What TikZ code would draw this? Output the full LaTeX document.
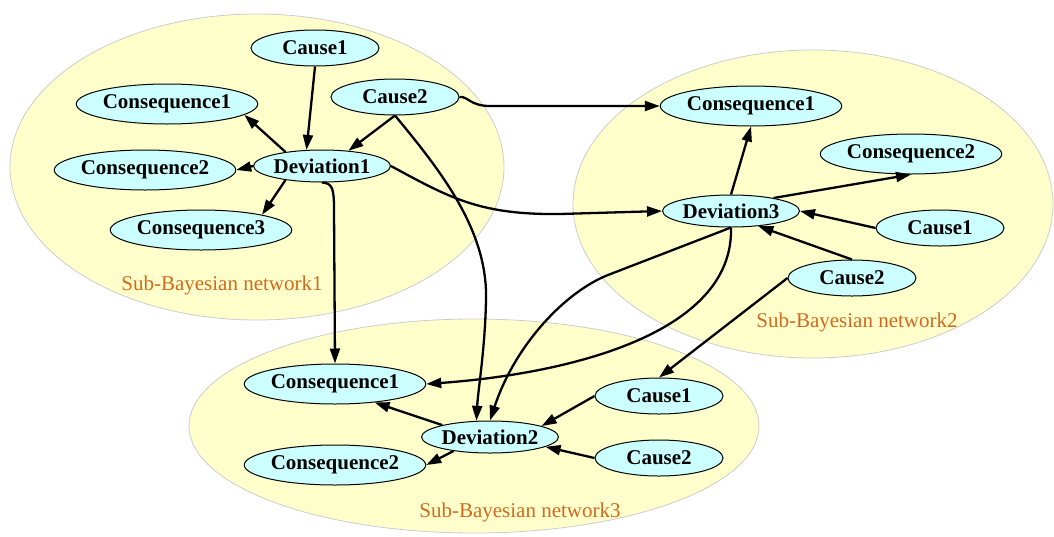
\documentclass[tikz,border=0pt]{standalone}
\usepackage{fontspec}
\setmainfont{Liberation Serif}
\usetikzlibrary{arrows.meta,shapes.geometric}
\definecolor{netfill}{RGB}{255,255,204}
\definecolor{netline}{RGB}{204,204,204}
\definecolor{nodefill}{RGB}{204,255,255}
\definecolor{netlab}{RGB}{210,105,30}
\begin{document}
\begin{tikzpicture}[x=1pt,y=-1pt,
  bn/.style={ellipse,draw,fill=nodefill,line width=1pt,inner sep=0pt,font=\fontsize{21}{21}\selectfont\bfseries},
  cons/.style={bn,minimum width=180pt,minimum height=40pt},
  cause/.style={bn,minimum width=128pt,minimum height=36pt},
  dev/.style={bn,minimum width=128pt,minimum height=32pt},
  link/.style={-{Triangle[length=15pt,width=10pt]},line width=2.3pt},
  sublab/.style={text=netlab,font=\fontsize{21}{21}\selectfont}]
\useasboundingbox (0,0) rectangle (1054,536);
\foreach \x/\y/\rx/\ry in {257/167/247/153,813/204/240/154,474/426/285/107}{
  \filldraw[fill=netfill,draw=netline,line width=0.8pt] (\x,\y) ellipse [x radius=\rx,y radius=\ry];
}
\foreach \nm/\x/\y/\txt in {lab1/222/285/Sub-Bayesian network1,lab2/857/322/Sub-Bayesian network2,lab3/520/512/Sub-Bayesian network3}{
  \node[sublab] (\nm) at (\x,\y) {\txt};
}
\foreach \nm/\x/\y/\txt in {c1a/315/48/Cause1,c2a/395/97/Cause2,c1b/940/228/Cause1,c2b/852/278/Cause2,c1c/659/396/Cause1,c2c/659/458/Cause2}{
  \node[cause] (\nm) at (\x,\y) {\txt};
}
\foreach \nm/\x/\y/\txt in {d1/322/166/Deviation1,d3/731/211/Deviation3,d2/490/437/Deviation2}{
  \node[dev] (\nm) at (\x,\y) {\txt};
}
\foreach \nm/\x/\y/\txt in {q1a/167/104/Consequence1,q2a/145/170/Consequence2,q3a/201/230/Consequence3,q1b/751/106/Consequence1,q2b/911/154/Consequence2,q1c/335/384/Consequence1,q2c/335/465/Consequence2}{
  \node[cons] (\nm) at (\x,\y) {\txt};
}
\draw[link] (c1a.south) -- (d1.134);
\draw[link] (c2a.south) -- (d1.30);
\draw[link] (d1.159) -- (q1a.-8);
\draw[link] (d1.west) -- (q2a.east);
\draw[link] (d1.201) -- (q3a.14);
\draw[link] (c2a.east) .. controls (468,96) and (470,106) .. (490,106) -- (q1b.west);
\draw[link] (c2a.south) .. controls (440,170) and (488,230) .. (486,300) .. controls (485,350) and (478,390) .. (d2.130);
\draw[link] (d1.east) .. controls (450,198) and (480,215) .. (560,214) -- (d3.west);
\draw[link] (d1.south) .. controls (333,183) and (334,190) .. (334,210) -- (q1c.north);
\draw[link] (d3.north) -- (q1b.south);
\draw[link] (d3.17) -- (q2b.south);
\draw[link] (c1b.west) -- (d3.east);
\draw[link] (c2b.north) -- (d3.-29);
\draw[link] (d3.south) -- (608,275) .. controls (565,292) and (515,345) .. (d2.north);
\draw[link] (d3.south) .. controls (734,335) and (565,374) .. (q1c.east);
\draw[link] (c2b.west) -- (c1c.north);
\draw[link] (d2.166) -- (q1c.-25);
\draw[link] (d2.201) -- (q2c.east);
\draw[link] (c1c.west) -- (d2.12);
\draw[link] (c2c.west) -- (d2.-10);
\end{tikzpicture}
\end{document}
